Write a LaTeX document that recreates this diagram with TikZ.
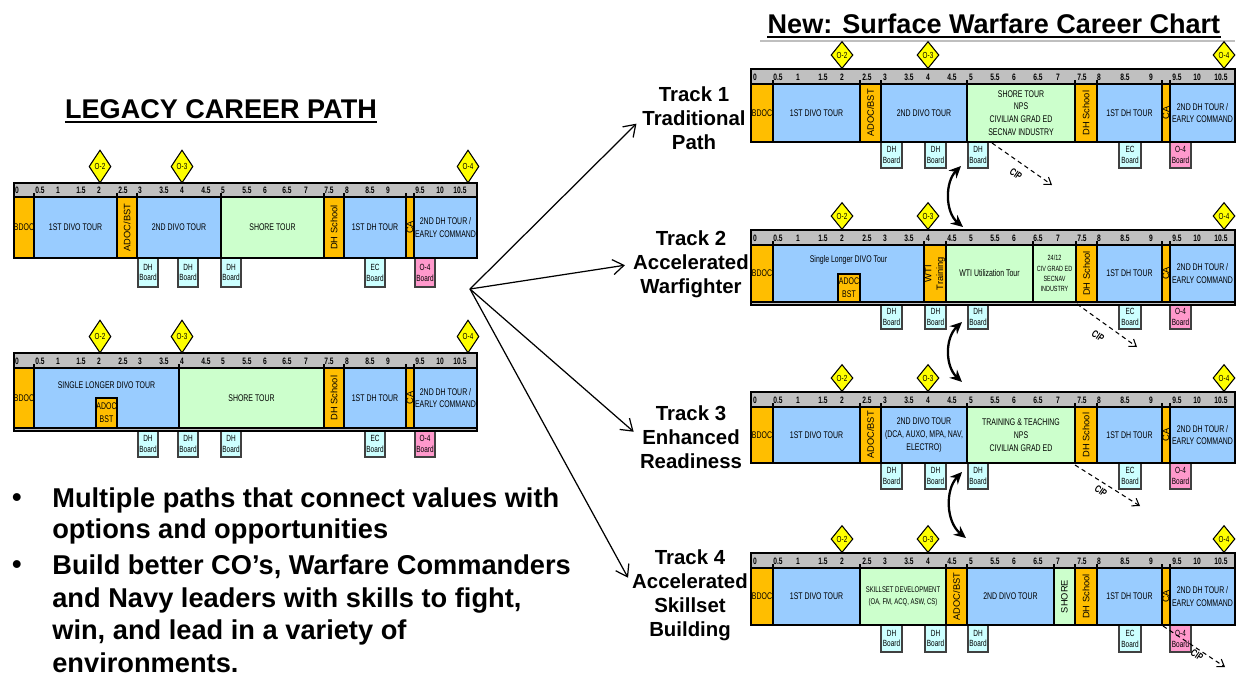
\documentclass[tikz,border=0pt]{standalone}
\usepackage{fontspec}
\setmainfont{Liberation Sans}
\newfontfamily\cf[FakeStretch=0.72]{Liberation Sans}
\usetikzlibrary{shapes.geometric,arrows.meta}
\definecolor{orC}{RGB}{255,190,0}
\definecolor{blC}{RGB}{153,204,255}
\definecolor{grC}{RGB}{204,255,204}
\definecolor{ruC}{RGB}{192,192,192}
\definecolor{cyC}{RGB}{204,255,255}
\definecolor{pkC}{RGB}{255,153,204}
\definecolor{ylC}{RGB}{255,255,0}
% block: name, x1, x2, y1, y2, fill style, node options, text
\newcommand{\cblk}[8]{%
  \path[#6] (#2,#4) rectangle (#3,#5);
  \draw[line width=0.9pt] (#2,#4) -- ++(0,-4);
  \node[btxt,#7] (#1) at ({(#2+#3)/2},{(#4+#5)/2}) {#8};}
% board: name, x1, x2, y1, y2, fill colour, text
\newcommand{\cbrd}[7]{%
  \path[brd,fill=#6] (#2,#4) rectangle (#3,#5);
  \node[bdtxt] (#1) at ({(#2+#3)/2},{(#4+#5)/2}) {#7};}
\def\legticks{17/0,40/0.5,58/1,81/1.5,99/2,123/2.5,140/3,164/3.5,182/4,206/4.5,223/5,247/5.5,265/6,287/6.5,306/7,329/7.5,347/8,370/8.5,388/9,420/9.5,440/10,460/10.5}
\def\trkticks{755/0,778/0.5,798/1,823/1.5,842/2,867/2.5,885/3,909/3.5,928/4,952/4.5,971/5,995/5.5,1014/6,1038/6.5,1058/7,1082/7.5,1099/8,1125/8.5,1151/9,1177/9.5,1197/10,1221/10.5}
\def\legboards{138/158/DH/cyC,178/198/DH/cyC,221/241/DH/cyC,365/385/EC/cyC,415/435/O-4/pkC}
\def\trkboards{881/902/DH/cyC,925/946/DH/cyC,968/988/DH/cyC,1119/1141/EC/cyC,1170/1191/O-4/pkC}
\tikzset{
  orb/.style={fill=orC, draw=black, line width=0.9pt},
  blb/.style={fill=blC, draw=black, line width=0.9pt},
  grb/.style={fill=grC, draw=black, line width=0.9pt},
  btxt/.style={font={\cf\fontsize{5.5}{7.3}\selectfont}, align=center, inner sep=0pt},
  rot/.style={rotate=90, font={\fontsize{5.3}{6.6}\selectfont}},
  brd/.style={draw=black!75, line width=0.6pt},
  bdtxt/.style={font={\cf\fontsize{5.1}{6.2}\selectfont}, align=center, inner sep=0pt},
  rl/.style={font={\cf\bfseries\fontsize{5.3}{5.6}\selectfont}, inner sep=0pt},
  dia/.style={diamond, draw=black, line width=0.6pt, fill=ylC, inner sep=0pt, font={\cf\fontsize{5}{5.5}\selectfont}},
  diaL/.style={dia, minimum width=0.44cm, minimum height=0.66cm},
  diaT/.style={dia, minimum width=0.44cm, minimum height=0.54cm},
  frm/.style={draw=black, line width=1.3pt},
  ttl/.style={font={\bfseries\fontsize{15.4}{18}\selectfont}, inner sep=0pt},
  trk/.style={font={\bfseries\fontsize{11.6}{13.6}\selectfont}, align=center, inner sep=0pt},
  bul/.style={font={\bfseries\fontsize{15.5}{17.6}\selectfont}, align=left, inner sep=0pt},
  hubarr/.style={arrows={-Straight Barb[length=2.2mm,width=3mm]}, line width=0.7pt, shorten >=0.16cm},
  curv/.style={arrows={Stealth[length=2.4mm,width=2.2mm]-Stealth[length=2.4mm,width=2.2mm]}, line width=1.3pt},
  cip/.style={arrows={-Straight Barb[length=1.3mm,width=1.8mm]}, dash pattern=on 2.5pt off 2pt, line width=0.6pt},
  ciptxt/.style={font={\cf\bfseries\fontsize{5.8}{6}\selectfont}, rotate=-35, inner sep=0pt}
}
\begin{document}
\begin{tikzpicture}[x=0.02cm,y=-0.02cm]
\useasboundingbox[fill=white] (0,0) rectangle (1241,677);

% ---------- titles ----------
\node[ttl, anchor=base] (ttlL) at (221,118) {LEGACY CAREER PATH};
\draw[line width=1.1pt] ([yshift=-2.5pt]ttlL.base west) -- ([yshift=-2.5pt]ttlL.base east);
\node[ttl, anchor=base] (ttlN) at (994,33) {New: Surface Warfare Career Chart};
\draw[line width=1.1pt] ([yshift=-2.5pt]ttlN.base west) -- ([yshift=-2.5pt]ttlN.base east);
\draw[black!25, line width=0.6pt] (760,41) -- (1235,41);

% ---------- legacy chart 1 ----------
\path[fill=ruC] (14,183) rectangle (477,258);
\cblk{L1a}{14}{34}{197}{258}{orb}{}{BDOC}
\cblk{L1b}{34}{117}{197}{258}{blb}{}{1ST DIVO TOUR}
\cblk{L1c}{117}{137}{197}{258}{orb}{rot}{ADOC/BST}
\cblk{L1d}{137}{221}{197}{258}{blb}{}{2ND DIVO TOUR}
\cblk{L1e}{221}{324}{197}{258}{grb}{}{SHORE TOUR}
\cblk{L1f}{324}{344}{197}{258}{orb}{rot}{DH School}
\cblk{L1g}{344}{406}{197}{258}{blb}{}{1ST DH TOUR}
\cblk{L1h}{406}{414}{197}{258}{orb}{rot}{CA}
\cblk{L1i}{414}{477}{197}{258}{blb}{}{2ND DH TOUR /\\EARLY COMMAND}
\foreach \x/\lab [count=\i] in \legticks {\node[rl] (L1r\i) at (\x,190) {\lab};}
\foreach \xa/\xb/\nm/\fc [count=\i] in \legboards {\cbrd{L1bd\i}{\xa}{\xb}{258}{287}{\fc}{\nm\\Board}}
\draw[frm] (14,183) rectangle (477,258);
\node[diaL] (L1o2) at (100,166.5) {O-2};
\node[diaL] (L1o3) at (182,166.5) {O-3};
\node[diaL] (L1o4) at (468,166.5) {O-4};

% ---------- legacy chart 2 ----------
\path[fill=ruC] (14,353) rectangle (477,431);
\cblk{L2a}{14}{34}{368}{428}{orb}{}{BDOC}
\cblk{L2b}{34}{179}{368}{428}{blb}{yshift=0.26cm}{SINGLE LONGER DIVO TOUR}
\path[orb, line width=1.2pt] (96,398) rectangle (117,428);
\node[btxt] (L2bx) at (106.5,413) {ADOC\\BST};
\cblk{L2c}{179}{324}{368}{428}{grb}{}{SHORE TOUR}
\cblk{L2d}{324}{344}{368}{428}{orb}{rot}{DH School}
\cblk{L2e}{344}{406}{368}{428}{blb}{}{1ST DH TOUR}
\cblk{L2f}{406}{414}{368}{428}{orb}{rot}{CA}
\cblk{L2g}{414}{477}{368}{428}{blb}{}{2ND DH TOUR /\\EARLY COMMAND}
\foreach \x/\lab [count=\i] in \legticks {\node[rl] (L2r\i) at (\x,361) {\lab};}
\foreach \xa/\xb/\nm/\fc [count=\i] in \legboards {\cbrd{L2bd\i}{\xa}{\xb}{431}{457}{\fc}{\nm\\Board}}
\draw[frm] (14,353) rectangle (477,431);
\node[diaL] (L2o2) at (100,336.5) {O-2};
\node[diaL] (L2o3) at (182,336.5) {O-3};
\node[diaL] (L2o4) at (468,336.5) {O-4};

% ---------- track 1 ----------
\path[fill=ruC] (751,69) rectangle (1235,142);
\cblk{T1a}{751}{773}{84}{142}{orb}{}{BDOC}
\cblk{T1b}{773}{860}{84}{142}{blb}{}{1ST DIVO TOUR}
\cblk{T1c}{860}{881}{84}{142}{orb}{rot}{ADOC/BST}
\cblk{T1d}{881}{967}{84}{142}{blb}{}{2ND DIVO TOUR}
\cblk{T1e}{967}{1075}{84}{142}{grb}{}{SHORE TOUR\\NPS\\CIVILIAN GRAD ED\\SECNAV INDUSTRY}
\cblk{T1f}{1075}{1097}{84}{142}{orb}{rot}{DH School}
\cblk{T1g}{1097}{1162}{84}{142}{blb}{}{1ST DH TOUR}
\cblk{T1h}{1162}{1170}{84}{142}{orb}{rot}{CA}
\cblk{T1i}{1170}{1235}{84}{142}{blb}{}{2ND DH TOUR /\\EARLY COMMAND}
\foreach \x/\lab [count=\i] in \trkticks {\node[rl] (T1r\i) at (\x,77) {\lab};}
\foreach \xa/\xb/\nm/\fc [count=\i] in \trkboards {\cbrd{T1bd\i}{\xa}{\xb}{142}{168}{\fc}{\nm\\Board}}
\draw[frm] (751,69) rectangle (1235,142);
\node[diaT] (T1o2) at (842,55) {O-2};
\node[diaT] (T1o3) at (928,55) {O-3};
\node[diaT] (T1o4) at (1224,55) {O-4};

% ---------- track 2 ----------
\path[fill=ruC] (751,230) rectangle (1235,305);
\cblk{T2a}{751}{773}{245}{302}{orb}{}{BDOC}
\cblk{T2b}{773}{924}{245}{302}{blb}{yshift=0.27cm}{Single Longer DIVO Tour}
\path[orb, line width=1.2pt] (838,274) rectangle (860,302);
\node[btxt] (T2bx) at (849,288) {ADOC\\BST};
\cblk{T2c}{924}{946}{245}{302}{orb}{rot}{WTI\\Training}
\cblk{T2d}{946}{1033}{245}{302}{grb}{}{WTI Utilization Tour}
\cblk{T2e}{1033}{1076}{245}{302}{grb}{font={\cf\fontsize{4.3}{5.9}\selectfont}}{24/12\\CIV GRAD ED\\SECNAV\\INDUSTRY}
\cblk{T2f}{1076}{1097}{245}{302}{orb}{rot}{DH School}
\cblk{T2g}{1097}{1162}{245}{302}{blb}{}{1ST DH TOUR}
\cblk{T2h}{1162}{1170}{245}{302}{orb}{rot}{CA}
\cblk{T2i}{1170}{1235}{245}{302}{blb}{}{2ND DH TOUR /\\EARLY COMMAND}
\foreach \x/\lab [count=\i] in \trkticks {\node[rl] (T2r\i) at (\x,238) {\lab};}
\foreach \xa/\xb/\nm/\fc [count=\i] in \trkboards {\cbrd{T2bd\i}{\xa}{\xb}{305}{329}{\fc}{\nm\\Board}}
\draw[frm] (751,230) rectangle (1235,305);
\node[diaT] (T2o2) at (842,216) {O-2};
\node[diaT] (T2o3) at (928,216) {O-3};
\node[diaT] (T2o4) at (1224,216) {O-4};

% ---------- track 3 ----------
\path[fill=ruC] (751,392) rectangle (1235,463);
\cblk{T3a}{751}{773}{407}{463}{orb}{}{BDOC}
\cblk{T3b}{773}{860}{407}{463}{blb}{}{1ST DIVO TOUR}
\cblk{T3c}{860}{881}{407}{463}{orb}{rot}{ADOC/BST}
\cblk{T3d}{881}{967}{407}{463}{blb}{}{2ND DIVO TOUR\\(DCA, AUXO, MPA, NAV,\\ELECTRO)}
\cblk{T3e}{967}{1075}{407}{463}{grb}{}{TRAINING \& TEACHING\\NPS\\CIVILIAN GRAD ED}
\cblk{T3f}{1075}{1097}{407}{463}{orb}{rot}{DH School}
\cblk{T3g}{1097}{1162}{407}{463}{blb}{}{1ST DH TOUR}
\cblk{T3h}{1162}{1170}{407}{463}{orb}{rot}{CA}
\cblk{T3i}{1170}{1235}{407}{463}{blb}{}{2ND DH TOUR /\\EARLY COMMAND}
\foreach \x/\lab [count=\i] in \trkticks {\node[rl] (T3r\i) at (\x,400) {\lab};}
\foreach \xa/\xb/\nm/\fc [count=\i] in \trkboards {\cbrd{T3bd\i}{\xa}{\xb}{463}{489}{\fc}{\nm\\Board}}
\draw[frm] (751,392) rectangle (1235,463);
\node[diaT] (T3o2) at (842,378) {O-2};
\node[diaT] (T3o3) at (928,378) {O-3};
\node[diaT] (T3o4) at (1224,378) {O-4};

% ---------- track 4 ----------
\path[fill=ruC] (751,553) rectangle (1235,625);
\cblk{T4a}{751}{773}{568}{625}{orb}{}{BDOC}
\cblk{T4b}{773}{860}{568}{625}{blb}{}{1ST DIVO TOUR}
\cblk{T4c}{860}{946}{568}{625}{grb}{font={\cf\fontsize{4.7}{7}\selectfont}}{SKILLSET DEVELOPMENT\\(OA, FM, ACQ, ASW, CS)}
\cblk{T4d}{946}{967}{568}{625}{orb}{rot}{ADOC/BST}
\cblk{T4e}{967}{1054}{568}{625}{blb}{}{2ND DIVO TOUR}
\cblk{T4f}{1054}{1075}{568}{625}{grb}{rot}{SHORE}
\cblk{T4g}{1075}{1097}{568}{625}{orb}{rot}{DH School}
\cblk{T4h}{1097}{1162}{568}{625}{blb}{}{1ST DH TOUR}
\cblk{T4i}{1162}{1170}{568}{625}{orb}{rot}{CA}
\cblk{T4j}{1170}{1235}{568}{625}{blb}{}{2ND DH TOUR /\\EARLY COMMAND}
\foreach \x/\lab [count=\i] in \trkticks {\node[rl] (T4r\i) at (\x,561) {\lab};}
\foreach \xa/\xb/\nm/\fc [count=\i] in \trkboards {\cbrd{T4bd\i}{\xa}{\xb}{625}{652}{\fc}{\nm\\Board}}
\draw[frm] (751,553) rectangle (1235,625);
\node[diaT] (T4o2) at (842,539) {O-2};
\node[diaT] (T4o3) at (928,539) {O-3};
\node[diaT] (T4o4) at (1224,539) {O-4};

% ---------- CIP arrows ----------
\coordinate (cip1s) at (992,143);  \coordinate (cip1e) at (1052,185);
\coordinate (cip2s) at (1077,304); \coordinate (cip2e) at (1137,347);
\coordinate (cip3s) at (1075,465); \coordinate (cip3e) at (1140,506);
\coordinate (cip4s) at (1163,626); \coordinate (cip4e) at (1225,667);
\draw[cip] (cip1s) -- (cip1e);
\draw[cip] (cip2s) -- (cip2e);
\draw[cip] (cip3s) -- (cip3e);
\draw[cip] (cip4s) -- (cip4e);
\node[ciptxt] (cipL1) at (1016,174) {CIP};
\node[ciptxt] (cipL2) at (1098,336) {CIP};
\node[ciptxt] (cipL3) at (1101,491) {CIP};
\node[ciptxt] (cipL4) at (1197,655) {CIP};

% ---------- curved double arrows ----------
\coordinate (c1a) at (961,166); \coordinate (c1b) at (963,227);
\coordinate (c2a) at (962,322); \coordinate (c2b) at (962,382);
\coordinate (c3a) at (962,472); \coordinate (c3b) at (966,538);
\draw[curv] (c1a) .. controls (945,182) and (945,212) .. (c1b);
\draw[curv] (c2a) .. controls (945,338) and (945,366) .. (c2b);
\draw[curv] (c3a) .. controls (945,490) and (946,522) .. (c3b);

% ---------- track labels ----------
\node[trk] (tr1) at (694,118) {Track 1\\Traditional\\Path};
\node[trk] (tr2) at (691,264) {Track 2\\Accelerated\\Warfighter};
\node[trk] (tr3) at (691,437) {Track 3\\Enhanced\\Readiness};
\node[trk] (tr4) at (690,595) {Track 4\\Accelerated\\Skillset\\Building};

% ---------- hub arrows ----------
\coordinate (hub) at (470,289);
\draw[hubarr] (hub) -- (tr1.west);
\draw[hubarr] (hub) -- (tr2.west);
\draw[hubarr] (hub) -- (tr3.west);
\draw[hubarr] (hub) -- (tr4.170);

% ---------- bullets ----------
\node[bul] (bd1) at (17,500) {•};
\node[bul] (bd2) at (17,567) {•};
\node[bul, anchor=west] (bt1) at (52,515.5) {Multiple paths that connect values with\\options and opportunities};
\node[bul, anchor=west, font={\bfseries\fontsize{15.5}{18.5}\selectfont}] (bt2) at (52,614) {Build better CO’s, Warfare Commanders\\and Navy leaders with skills to fight,\\win, and lead in a variety of\\environments.};
\end{tikzpicture}
\end{document}
